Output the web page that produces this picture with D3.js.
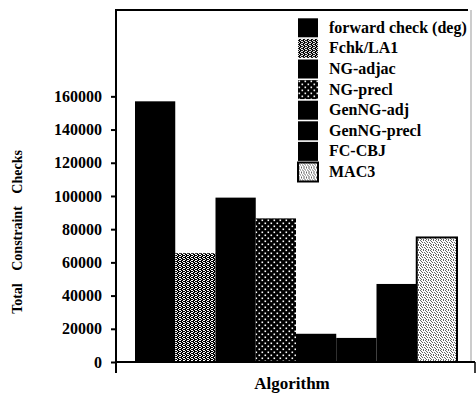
<!DOCTYPE html>
<html>
<head>
<meta charset="utf-8">
<script src="https://cdnjs.cloudflare.com/ajax/libs/d3/7.8.5/d3.min.js"></script>
<style>
  body { margin: 0; background: #fff; }
</style>
</head>
<body>
<div id="chart"></div>
<script>
//Chart data
var algorithms = ["forward check (deg)", "Fchk/LA1", "NG-adjac", "NG-precl", "GenNG-adj", "GenNG-precl", "FC-CBJ", "MAC3"]
var totalChecks = [157000, 65500, 99000, 86500, 17000, 14500, 47000, 75000]
var yTickValues = [0, 20000, 40000, 60000, 80000, 100000, 120000, 140000, 160000]

//Fill used for each algorithm (solid black or one of the stipple patterns)
var fillKind = ["solid", "stipple", "solid", "dots", "solid", "solid", "solid", "light"]

var serif = "'Liberation Serif', 'Times New Roman', Times, serif"
var width = 476
var height = 395

var svg = d3.select("#chart")
  .append("svg")
  .attr("width", width)
  .attr("height", height)
  .attr("font-family", serif)
  .attr("font-weight", "bold")

//Patterns for the hatched bars
var defs = svg.append("defs")

var stipple = defs.append("pattern")
  .attr("id", "stipple")
  .attr("patternUnits", "userSpaceOnUse")
  .attr("width", 4).attr("height", 4)
stipple.append("rect").attr("width", 4).attr("height", 4).attr("fill", "#000")
var stippleDots = [[0, 0], [2, 1], [1, 3], [3, 2], [0, 2], [3, 0]]
stippleDots.forEach(function(p) {
  stipple.append("rect").attr("x", p[0]).attr("y", p[1]).attr("width", 1).attr("height", 1).attr("fill", "#fff")
})

var dots = defs.append("pattern")
  .attr("id", "dots")
  .attr("patternUnits", "userSpaceOnUse")
  .attr("width", 6).attr("height", 6)
dots.append("rect").attr("width", 6).attr("height", 6).attr("fill", "#000")
dots.append("rect").attr("x", 0.5).attr("y", 0.5).attr("width", 1.6).attr("height", 1.6).attr("fill", "#fff")
dots.append("rect").attr("x", 3.5).attr("y", 3.5).attr("width", 1.6).attr("height", 1.6).attr("fill", "#fff")

var light = defs.append("pattern")
  .attr("id", "light")
  .attr("patternUnits", "userSpaceOnUse")
  .attr("width", 5).attr("height", 5)
light.append("rect").attr("width", 5).attr("height", 5).attr("fill", "#fff")
var lightDots = [[0, 0], [3, 0], [1, 1], [4, 2], [2, 2], [0, 3], [3, 4], [1, 4]]
lightDots.forEach(function(p) {
  light.append("rect").attr("x", p[0]).attr("y", p[1]).attr("width", 1).attr("height", 1).attr("fill", "#666")
})

function fillFor(i) {
  if (fillKind[i] == "solid") { return "#000" }
  return "url(#" + fillKind[i] + ")"
}

//Scales
var axisX = 116
var x = d3.scaleBand()
  .domain(algorithms)
  .range([135, 457])
  .padding(0)

var y = d3.scaleLinear()
  .domain([0, 212000])
  .range([362, 10])

//Bars
svg.selectAll(".bar")
  .data(algorithms)
  .enter()
  .append("rect")
  .attr("class", "bar")
  .attr("x", function(d) { return x(d) })
  .attr("y", function(d, i) { return y(totalChecks[i]) })
  .attr("width", x.bandwidth())
  .attr("height", function(d, i) { return y(0) - y(totalChecks[i]) })
  .attr("fill", function(d, i) { return fillFor(i) })
  .attr("stroke", function(d, i) { return fillKind[i] == "light" ? "#000" : "none" })
  .attr("stroke-width", 2)

//Frame: top line, faint right border, baseline and its end tick
svg.append("line")
  .attr("x1", axisX).attr("x2", 468)
  .attr("y1", y.range()[1]).attr("y2", y.range()[1])
  .attr("stroke", "#000").attr("stroke-width", 2)

svg.append("line")
  .attr("x1", 471).attr("x2", 471)
  .attr("y1", y.range()[1]).attr("y2", y(0))
  .attr("stroke", "#999").attr("stroke-width", 1)

svg.append("line")
  .attr("x1", axisX).attr("x2", 475)
  .attr("y1", y(0)).attr("y2", y(0))
  .attr("stroke", "#000").attr("stroke-width", 2)

svg.append("line")
  .attr("x1", 475).attr("x2", 475)
  .attr("y1", y(0)).attr("y2", y(0) + 11)
  .attr("stroke", "#000").attr("stroke-width", 1.5)

//Y axis
var yAxis = d3.axisLeft(y)
  .tickValues(yTickValues)
  .tickSize(5)
  .tickSizeOuter(0)
  .tickPadding(9)
  .tickFormat(d3.format("d"))

var gy = svg.append("g")
  .attr("transform", "translate(" + axisX + ",0)")
  .call(yAxis)
  .attr("font-family", serif)
  .attr("font-size", 16)

gy.select(".domain").remove()
gy.selectAll(".tick line").attr("stroke", "#000").attr("stroke-width", 2)

gy.append("line")
  .attr("x1", 0).attr("x2", 0)
  .attr("y1", y.range()[1] - 1).attr("y2", y(0) + 11)
  .attr("stroke", "#000").attr("stroke-width", 2)

//Axis titles
svg.append("text")
  .attr("x", 292)
  .attr("y", 389)
  .attr("text-anchor", "middle")
  .attr("font-size", 17)
  .text("Algorithm")

svg.append("text")
  .attr("transform", "translate(22,232) rotate(-90)")
  .attr("text-anchor", "middle")
  .attr("font-size", 14)
  .attr("word-spacing", 9)
  .text("Total Constraint Checks")

//Legend
var legend = svg.selectAll(".legend")
  .data(algorithms)
  .enter()
  .append("g")
  .attr("class", "legend")
  .attr("transform", function(d, i) { return "translate(298," + (18.3 + i * 20.6) + ")" })

legend.append("rect")
  .attr("width", 20)
  .attr("height", 19)
  .attr("fill", function(d, i) { return fillFor(i) })
  .attr("stroke", function(d, i) { return fillKind[i] == "light" ? "#000" : "none" })
  .attr("stroke-width", 2)

legend.append("text")
  .attr("x", 31)
  .attr("y", 14.5)
  .attr("font-size", 16)
  .text(function(d) { return d })
</script>
</body>
</html>
